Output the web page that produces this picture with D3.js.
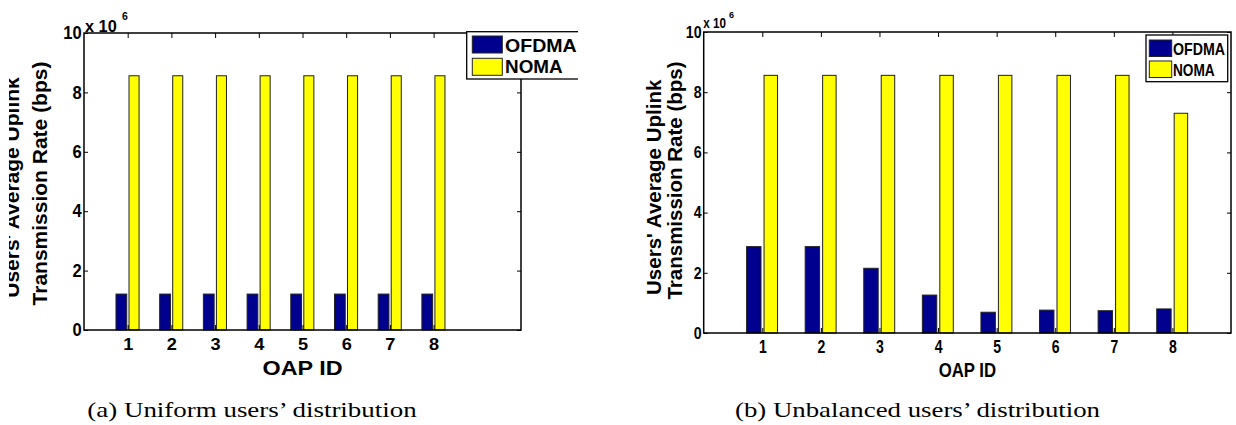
<!DOCTYPE html>
<html><head><meta charset="utf-8">
<script src="https://cdn.jsdelivr.net/npm/d3@7"></script>
<style>body{margin:0;background:#fff} svg{display:block}</style>
</head><body>
<svg id="c" width="1236" height="425"></svg>
<script>
// ---- data (values in units of 10^6 bps) ----
const oapIds = [1, 2, 3, 4, 5, 6, 7, 8];
const seriesNames = ["OFDMA", "NOMA"];
const ofdmaUniform = [1.21, 1.21, 1.21, 1.21, 1.21, 1.21, 1.21, 1.21];
const nomaUniform = [8.56, 8.56, 8.56, 8.56, 8.56, 8.56, 8.56, 8.56];
const ofdmaUnbalanced = [2.87, 2.87, 2.15, 1.26, 0.69, 0.76, 0.74, 0.80];
const nomaUnbalanced = [8.56, 8.56, 8.56, 8.56, 8.56, 8.56, 8.56, 7.30];
const yTickValues = [0, 2, 4, 6, 8, 10];
const yLabelLines = ["Users' Average Uplink", "Transmission Rate (bps)"];
const xLabel = "OAP ID";
const captions = ["(a) Uniform users\u2019 distribution", "(b) Unbalanced users\u2019 distribution"];

const colors = { OFDMA: "#00008f", NOMA: "#ffff00" };
const FONT = "'Liberation Sans', Arial, Helvetica, sans-serif";
const SERIF = "'Liberation Serif', 'Times New Roman', serif";
const svg = d3.select("#c");
const defs = svg.append("defs");

function panel(p) {
  let g = svg.append("g");
  if (p.clip) {
    defs.append("clipPath").attr("id", p.id).append("rect")
      .attr("x", p.clip[0]).attr("y", 0).attr("width", p.clip[1] - p.clip[0]).attr("height", 425);
    g.attr("clip-path", `url(#${p.id})`);
  }
  const x = d3.scaleLinear().domain([0, p.xmax]).range([p.left, p.right]);
  const y = d3.scaleLinear().domain([0, 10]).range([p.bottom, p.top]);
  const offs = [[-0.268, -0.022], [0.03, 0.26]];

  p.series.forEach((vals, si) => {
    g.append("g").selectAll("rect")
      .data(oapIds.map((id, i) => ({ id, v: vals[i] })))
      .join("rect")
      .attr("x", d => x(d.id + offs[si][0]))
      .attr("width", d => x(d.id + offs[si][1]) - x(d.id + offs[si][0]))
      .attr("y", d => y(d.v))
      .attr("height", d => y(0) - y(d.v))
      .attr("fill", colors[seriesNames[si]])
      .attr("stroke", "#222").attr("stroke-width", 1);
  });

  function styleAxis(a) {
    a.select(".domain").remove();
    a.selectAll("line").attr("stroke", "#000").attr("stroke-width", 1);
    a.selectAll("text").attr("font-family", FONT).attr("font-weight", "bold").attr("fill", "#000");
  }
  const ab = g.append("g").attr("transform", `translate(0,${p.bottom})`)
    .call(d3.axisBottom(x).tickValues(oapIds).tickFormat(d3.format("d"))
      .tickSize(-5).tickSizeOuter(0).tickPadding(p.xPad));
  styleAxis(ab);
  ab.selectAll("text").attr("font-size", p.xTickFont).attr("transform", `scale(${p.xTickSx},1)`);

  const at = g.append("g").attr("transform", `translate(0,${p.top})`)
    .call(d3.axisTop(x).tickValues(oapIds).tickFormat("").tickSize(-5).tickSizeOuter(0));
  styleAxis(at);

  const al = g.append("g").attr("transform", `translate(${p.left},0)`)
    .call(d3.axisLeft(y).tickValues(yTickValues).tickFormat(d3.format("d"))
      .tickSize(-4).tickSizeOuter(0).tickPadding(p.yPad));
  styleAxis(al);
  al.selectAll("text").attr("font-size", p.yTickFont).attr("transform", `scale(${p.yTickSx},1)`);

  const ar = g.append("g").attr("transform", `translate(${p.right},0)`)
    .call(d3.axisRight(y).tickValues(yTickValues).tickFormat("").tickSize(-4).tickSizeOuter(0));
  styleAxis(ar);

  g.append("rect").attr("x", p.left).attr("y", p.top)
    .attr("width", p.right - p.left).attr("height", p.bottom - p.top)
    .attr("fill", "none").attr("stroke", "#000").attr("stroke-width", 1.5);

  // exponent
  g.append("text").attr("x", p.exp.x).attr("y", p.exp.y).attr("font-family", FONT)
    .attr("font-weight", "bold").attr("font-size", p.exp.fs).attr("textLength", p.exp.w)
    .attr("lengthAdjust", "spacingAndGlyphs").text("x 10");
  g.append("text").attr("x", p.exp.sx).attr("y", p.exp.sy).attr("font-family", FONT)
    .attr("font-weight", "bold").attr("font-size", p.exp.sfs).text("6");

  // x label
  g.append("text").attr("x", (p.left + p.right) / 2).attr("y", p.xl.y).attr("text-anchor", "middle")
    .attr("font-family", FONT).attr("font-weight", "bold").attr("font-size", 21)
    .attr("textLength", p.xl.w).attr("lengthAdjust", "spacingAndGlyphs").text(xLabel);

  // y label
  yLabelLines.forEach((t, i) => {
    g.append("text").attr("transform", `translate(${p.yl.bx[i]},${p.yl.cy[i]}) rotate(-90)`)
      .attr("text-anchor", "middle").attr("font-family", FONT).attr("font-weight", "bold")
      .attr("font-size", p.yl.fs).text(t);
  });

  // legend
  const L = p.leg;
  const lg = g.append("g");
  lg.append("rect").attr("x", L.x0).attr("y", L.y0).attr("width", L.x1 - L.x0).attr("height", L.y1 - L.y0)
    .attr("fill", "#fff").attr("stroke", "#000").attr("stroke-width", 1.3);
  seriesNames.forEach((s, i) => {
    lg.append("rect").attr("x", L.px).attr("y", L.py[i]).attr("width", L.pw).attr("height", L.ph)
      .attr("fill", colors[s]).attr("stroke", "#222").attr("stroke-width", 1);
    lg.append("text").attr("x", L.tx).attr("y", L.ty[i]).attr("font-family", FONT)
      .attr("font-weight", "bold").attr("font-size", L.fs)
      .attr("textLength", L.tw[i]).attr("lengthAdjust", "spacingAndGlyphs").text(s);
  });

  // caption
  svg.append("text").attr("x", p.cap.x).attr("y", 417).attr("font-family", SERIF)
    .attr("font-size", 22).attr("textLength", p.cap.w).attr("lengthAdjust", "spacingAndGlyphs")
    .text(p.cap.text);
}

panel({
  id: "clipA", clip: [9, 578],
  left: 84, right: 521, top: 33, bottom: 330, xmax: 10,
  series: [ofdmaUniform, nomaUniform],
  xPad: 8.5, xTickFont: 16.5, xTickSx: 1.1,
  yPad: 2.5, yTickFont: 18, yTickSx: 0.92,
  exp: { x: 85, y: 31.7, fs: 16, w: 31.7, sx: 122, sy: 20, sfs: 10.5 },
  xl: { y: 375, w: 80 },
  yl: { bx: [18.5, 46.7], cy: [187.5, 183.5], fs: 21 },
  leg: { x0: 466.7, y0: 31.7, x1: 590, y1: 79, px: 472.3, pw: 30, ph: 17, py: [36, 58.3],
         tx: 505, ty: [51.7, 73.3], fs: 18.5, tw: [71.7, 57.7] },
  cap: { x: 87.3, w: 329.4, text: captions[0] }
});

panel({
  id: null, clip: null,
  left: 703.7, right: 1231, top: 32, bottom: 333, xmax: 9,
  series: [ofdmaUnbalanced, nomaUnbalanced],
  xPad: 7, xTickFont: 18, xTickSx: 0.78,
  yPad: 2.5, yTickFont: 16.5, yTickSx: 0.86,
  exp: { x: 703.3, y: 28, fs: 14, w: 22.7, sx: 729, sy: 18, sfs: 9 },
  xl: { y: 376.7, w: 57.4 },
  yl: { bx: [660.7, 681.7], cy: [187.3, 180.5], fs: 20.5 },
  leg: { x0: 1146, y0: 35, x1: 1227.7, y1: 81.7, px: 1149.3, pw: 22.4, ph: 16.5, py: [40, 61],
         tx: 1173, ty: [55, 76], fs: 17, tw: [52, 41.7] },
  cap: { x: 735, w: 365, text: captions[1] }
});
</script>
</body></html>
